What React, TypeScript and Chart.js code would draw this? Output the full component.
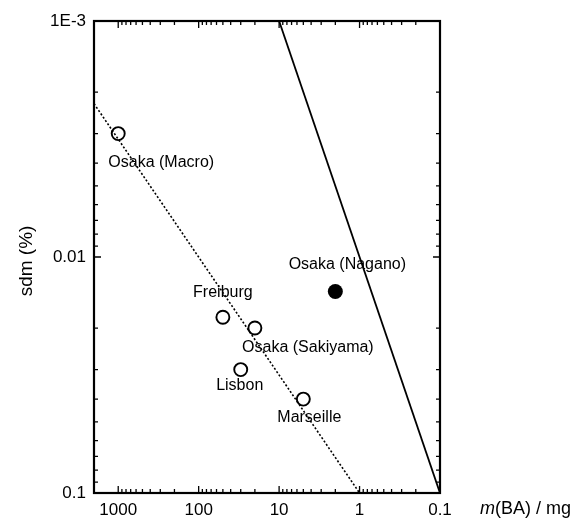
import React, { useEffect, useRef } from "react";
import { Chart, registerables } from "chart.js";

Chart.register(...registerables);

// ---- data ----
const sites = ["Osaka (Macro)", "Freiburg", "Osaka (Sakiyama)", "Lisbon", "Marseille"];
const massMg = [1000, 50, 20, 30, 5];
const sdmPct = [0.003, 0.018, 0.02, 0.03, 0.04];

const naganoSite = ["Osaka (Nagano)"];
const naganoMass = [2];
const naganoSdm = [0.014];

const dottedMass = [2000, 1];
const dottedSdm = [0.00224, 0.1];

const solidMass = [10, 0.1];
const solidSdm = [0.001, 0.1];

const xTickValues = [1000, 100, 10, 1, 0.1];
const xTickLabels = ["1000", "100", "10", "1", "0.1"];
const yTickValues = [0.001, 0.01, 0.1];
const yTickLabels = ["1E-3", "0.01", "0.1"];

const xMin = 0.1;
const xMax = 2000;
const yMin = 0.001;
const yMax = 0.1;

// ---- styles / label offsets (pixels) ----
const FONT = "Arial, 'Liberation Sans', Helvetica, sans-serif";
const siteLabelOffsets = [
  [43, 29],
  [0, -25],
  [53, 20],
  [-1, 16],
  [6, 19],
];
const naganoLabelOffset = [12, -27];

function minorTicks(min: number, max: number): number[] {
  const out: number[] = [];
  const lo = Math.floor(Math.log10(min));
  const hi = Math.ceil(Math.log10(max));
  for (let e = lo; e <= hi; e++) {
    for (let m = 1; m <= 9; m++) {
      const v = parseFloat((m * Math.pow(10, e)).toPrecision(6));
      if (v >= min * 0.9999 && v <= max * 1.0001) out.push(v);
    }
  }
  return out;
}

function isMajor(v: number, majors: number[]) {
  return majors.some((m) => Math.abs(v / m - 1) < 1e-6);
}

const decorPlugin = {
  id: "decor",
  afterDraw(chart: any) {
    const ctx = chart.ctx;
    const { left, right, top, bottom } = chart.chartArea;
    const xs = chart.scales.x;
    const ys = chart.scales.y;
    ctx.save();
    ctx.strokeStyle = "#000";
    // tick marks (inward)
    ctx.lineWidth = 1.3;
    xs.ticks.forEach((t: any) => {
      const px = xs.getPixelForValue(t.value);
      const len = isMajor(t.value, xTickValues) ? 7 : 4;
      ctx.beginPath();
      ctx.moveTo(px, bottom);
      ctx.lineTo(px, bottom - len);
      ctx.moveTo(px, top);
      ctx.lineTo(px, top + len);
      ctx.stroke();
    });
    ys.ticks.forEach((t: any) => {
      const py = ys.getPixelForValue(t.value);
      const len = isMajor(t.value, yTickValues) ? 7 : 4;
      ctx.beginPath();
      ctx.moveTo(left, py);
      ctx.lineTo(left + len, py);
      ctx.moveTo(right, py);
      ctx.lineTo(right - len, py);
      ctx.stroke();
    });
    // frame
    ctx.lineWidth = 2.2;
    ctx.strokeRect(left, top, right - left, bottom - top);

    // data labels
    ctx.fillStyle = "#000";
    ctx.font = `16px ${FONT}`;
    ctx.textAlign = "center";
    ctx.textBaseline = "middle";
    sites.forEach((s, i) => {
      const px = xs.getPixelForValue(massMg[i]);
      const py = ys.getPixelForValue(sdmPct[i]);
      ctx.fillText(s, px + siteLabelOffsets[i][0], py + siteLabelOffsets[i][1]);
    });
    naganoSite.forEach((s, i) => {
      const px = xs.getPixelForValue(naganoMass[i]);
      const py = ys.getPixelForValue(naganoSdm[i]);
      ctx.fillText(s, px + naganoLabelOffset[0], py + naganoLabelOffset[1]);
    });

    // x title: m(BA) / mg
    const ty = bottom + 16;
    let tx = 480;
    ctx.textAlign = "left";
    ctx.font = `italic 18px ${FONT}`;
    ctx.fillText("m", tx, ty);
    tx += ctx.measureText("m").width;
    ctx.font = `18px ${FONT}`;
    ctx.fillText("(BA) / mg", tx, ty);

    // y title
    ctx.save();
    ctx.translate(27, (top + bottom) / 2 + 4);
    ctx.rotate(-Math.PI / 2);
    ctx.textAlign = "center";
    ctx.font = `19px ${FONT}`;
    ctx.fillText("sdm (%)", 0, 0);
    ctx.restore();

    ctx.restore();
  },
};

export default function App() {
  const ref = useRef<HTMLCanvasElement | null>(null);
  useEffect(() => {
    if (!ref.current) return;
    const chart = new Chart(ref.current, {
      type: "scatter",
      data: {
        datasets: [
          {
            label: "sites",
            data: massMg.map((x, i) => ({ x, y: sdmPct[i] })),
            pointRadius: 6.5,
            pointBorderWidth: 1.9,
            pointBackgroundColor: "rgba(0,0,0,0)",
            pointBorderColor: "#000",
            showLine: false,
          },
          {
            label: "nagano",
            data: naganoMass.map((x, i) => ({ x, y: naganoSdm[i] })),
            pointRadius: 7.5,
            pointBorderWidth: 0,
            pointBackgroundColor: "#000",
            pointBorderColor: "#000",
            showLine: false,
          },
          {
            label: "dotted",
            data: dottedMass.map((x, i) => ({ x, y: dottedSdm[i] })),
            showLine: true,
            pointRadius: 0,
            borderColor: "#000",
            borderWidth: 1.6,
            borderDash: [2, 2],
          },
          {
            label: "solid",
            data: solidMass.map((x, i) => ({ x, y: solidSdm[i] })),
            showLine: true,
            pointRadius: 0,
            borderColor: "#000",
            borderWidth: 1.8,
          },
        ],
      },
      options: {
        responsive: false,
        animation: false,
        events: [],
        layout: { padding: { left: 0, right: 145, top: 21, bottom: 0 } },
        plugins: {
          legend: { display: false },
          tooltip: { enabled: false },
          title: { display: false },
        },
        scales: {
          x: {
            type: "logarithmic",
            reverse: true,
            min: xMin,
            max: xMax,
            grid: { display: false, drawTicks: false },
            border: { display: false },
            afterBuildTicks: (scale: any) => {
              scale.ticks = minorTicks(xMin, xMax).map((v) => ({ value: v }));
            },
            afterFit: (scale: any) => {
              scale.height = 25;
            },
            ticks: {
              autoSkip: false,
              maxRotation: 0,
              padding: 7,
              color: "#000",
              font: { family: FONT, size: 17 },
              callback: (v: any) => {
                const idx = xTickValues.findIndex((m) => Math.abs(Number(v) / m - 1) < 1e-6);
                return idx >= 0 ? xTickLabels[idx] : "";
              },
            },
          },
          y: {
            type: "logarithmic",
            reverse: true,
            min: yMin,
            max: yMax,
            grid: { display: false, drawTicks: false },
            border: { display: false },
            afterBuildTicks: (scale: any) => {
              scale.ticks = minorTicks(yMin, yMax).map((v) => ({ value: v }));
            },
            afterFit: (scale: any) => {
              scale.width = 94;
            },
            ticks: {
              autoSkip: false,
              padding: 8,
              color: "#000",
              font: { family: FONT, size: 17 },
              callback: (v: any) => {
                const idx = yTickValues.findIndex((m) => Math.abs(Number(v) / m - 1) < 1e-6);
                return idx >= 0 ? yTickLabels[idx] : "";
              },
            },
          },
        },
      },
      plugins: [decorPlugin],
    } as any);
    return () => chart.destroy();
  }, []);
  return (
    <div style={{ position: "fixed", left: 0, top: 0, width: 585, height: 518, background: "#fff" }}>
      <canvas ref={ref} width={585} height={518} style={{ width: 585, height: 518 }} />
    </div>
  );
}
